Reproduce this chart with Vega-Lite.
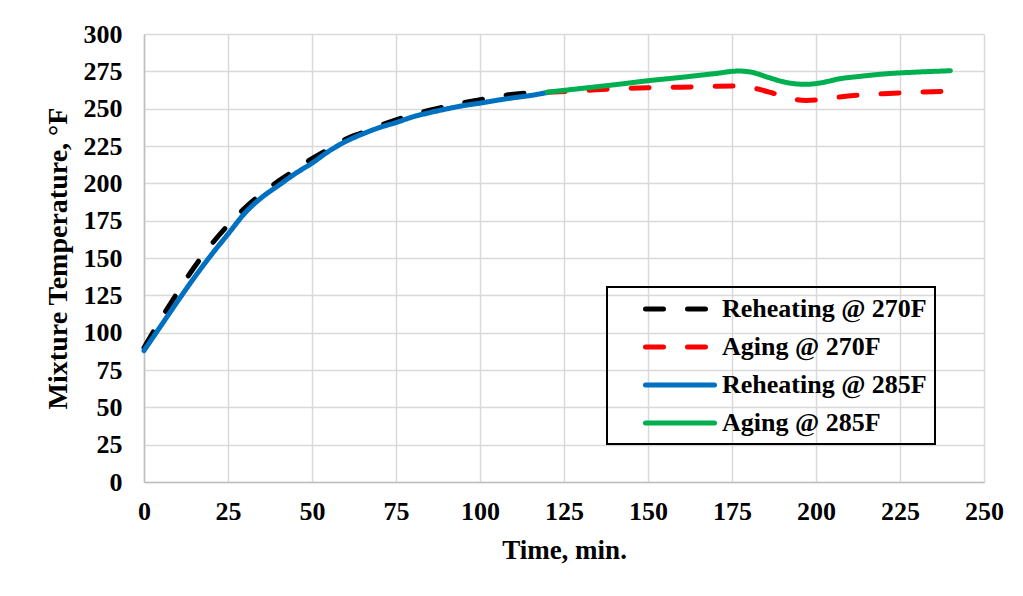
{
  "$schema": "https://vega.github.io/schema/vega-lite/v6.json",
  "autosize": {"type": "none"},
  "width": 840,
  "height": 448,
  "padding": {"left": 144, "top": 34, "right": 39, "bottom": 114},
  "background": "white",
  "config": {
    "view": {"stroke": null},
    "font": "Liberation Serif",
    "axis": {
      "labelFont": "Liberation Serif",
      "labelFontWeight": "bold",
      "labelFontSize": 26,
      "labelColor": "black",
      "labelFlush": false,
      "titleFont": "Liberation Serif",
      "titleFontWeight": "bold",
      "titleColor": "black",
      "gridColor": "#d9d9d9",
      "gridWidth": 1.5,
      "domainColor": "#bfbfbf",
      "domainWidth": 1.5,
      "ticks": false
    }
  },
  "data": {
    "values": [
      {"series": "Reheating @ 270F", "t": 0, "T": 90},
      {"series": "Reheating @ 270F", "t": 5, "T": 109},
      {"series": "Reheating @ 270F", "t": 10, "T": 127},
      {"series": "Reheating @ 270F", "t": 15, "T": 144},
      {"series": "Reheating @ 270F", "t": 20, "T": 159},
      {"series": "Reheating @ 270F", "t": 25, "T": 172},
      {"series": "Reheating @ 270F", "t": 30, "T": 183.5},
      {"series": "Reheating @ 270F", "t": 35, "T": 193},
      {"series": "Reheating @ 270F", "t": 40, "T": 201.5},
      {"series": "Reheating @ 270F", "t": 45, "T": 209},
      {"series": "Reheating @ 270F", "t": 50, "T": 216.5},
      {"series": "Reheating @ 270F", "t": 55, "T": 223},
      {"series": "Reheating @ 270F", "t": 60, "T": 229.5},
      {"series": "Reheating @ 270F", "t": 65, "T": 234},
      {"series": "Reheating @ 270F", "t": 70, "T": 238.5},
      {"series": "Reheating @ 270F", "t": 75, "T": 242.5},
      {"series": "Reheating @ 270F", "t": 80, "T": 246},
      {"series": "Reheating @ 270F", "t": 85, "T": 249},
      {"series": "Reheating @ 270F", "t": 90, "T": 251.5},
      {"series": "Reheating @ 270F", "t": 95, "T": 254},
      {"series": "Reheating @ 270F", "t": 100, "T": 256},
      {"series": "Reheating @ 270F", "t": 105, "T": 258},
      {"series": "Reheating @ 270F", "t": 110, "T": 259.7},
      {"series": "Reheating @ 270F", "t": 115, "T": 260.7},
      {"series": "Reheating @ 270F", "t": 120, "T": 261.3},
      {"series": "Aging @ 270F", "t": 120, "T": 261},
      {"series": "Aging @ 270F", "t": 130, "T": 262},
      {"series": "Aging @ 270F", "t": 140, "T": 263.3},
      {"series": "Aging @ 270F", "t": 150, "T": 264},
      {"series": "Aging @ 270F", "t": 160, "T": 264.4},
      {"series": "Aging @ 270F", "t": 170, "T": 265},
      {"series": "Aging @ 270F", "t": 177, "T": 265.2},
      {"series": "Aging @ 270F", "t": 182, "T": 263.5},
      {"series": "Aging @ 270F", "t": 187, "T": 260.5},
      {"series": "Aging @ 270F", "t": 192, "T": 257},
      {"series": "Aging @ 270F", "t": 197, "T": 255.5},
      {"series": "Aging @ 270F", "t": 202, "T": 256.2},
      {"series": "Aging @ 270F", "t": 207, "T": 257.8},
      {"series": "Aging @ 270F", "t": 212, "T": 259},
      {"series": "Aging @ 270F", "t": 220, "T": 260},
      {"series": "Aging @ 270F", "t": 230, "T": 261},
      {"series": "Aging @ 270F", "t": 240, "T": 261.6},
      {"series": "Reheating @ 285F", "t": 0, "T": 88},
      {"series": "Reheating @ 285F", "t": 5, "T": 104.5},
      {"series": "Reheating @ 285F", "t": 10, "T": 121},
      {"series": "Reheating @ 285F", "t": 15, "T": 137},
      {"series": "Reheating @ 285F", "t": 20, "T": 152},
      {"series": "Reheating @ 285F", "t": 25, "T": 166},
      {"series": "Reheating @ 285F", "t": 30, "T": 180},
      {"series": "Reheating @ 285F", "t": 35, "T": 190.5},
      {"series": "Reheating @ 285F", "t": 40, "T": 198.5},
      {"series": "Reheating @ 285F", "t": 45, "T": 206.5},
      {"series": "Reheating @ 285F", "t": 50, "T": 213.5},
      {"series": "Reheating @ 285F", "t": 55, "T": 221.5},
      {"series": "Reheating @ 285F", "t": 60, "T": 228},
      {"series": "Reheating @ 285F", "t": 65, "T": 233},
      {"series": "Reheating @ 285F", "t": 70, "T": 237.3},
      {"series": "Reheating @ 285F", "t": 75, "T": 240.7},
      {"series": "Reheating @ 285F", "t": 80, "T": 244.5},
      {"series": "Reheating @ 285F", "t": 85, "T": 247.3},
      {"series": "Reheating @ 285F", "t": 90, "T": 249.8},
      {"series": "Reheating @ 285F", "t": 95, "T": 252},
      {"series": "Reheating @ 285F", "t": 100, "T": 253.7},
      {"series": "Reheating @ 285F", "t": 105, "T": 255.6},
      {"series": "Reheating @ 285F", "t": 110, "T": 257.3},
      {"series": "Reheating @ 285F", "t": 115, "T": 258.8},
      {"series": "Reheating @ 285F", "t": 120, "T": 260.8},
      {"series": "Aging @ 285F", "t": 120, "T": 261},
      {"series": "Aging @ 285F", "t": 130, "T": 263.5},
      {"series": "Aging @ 285F", "t": 140, "T": 266},
      {"series": "Aging @ 285F", "t": 150, "T": 268.7},
      {"series": "Aging @ 285F", "t": 160, "T": 271},
      {"series": "Aging @ 285F", "t": 170, "T": 273.5},
      {"series": "Aging @ 285F", "t": 177, "T": 275.2},
      {"series": "Aging @ 285F", "t": 181, "T": 274.3},
      {"series": "Aging @ 285F", "t": 186, "T": 270.8},
      {"series": "Aging @ 285F", "t": 191, "T": 267.6},
      {"series": "Aging @ 285F", "t": 197, "T": 266.3},
      {"series": "Aging @ 285F", "t": 202, "T": 267.5},
      {"series": "Aging @ 285F", "t": 207, "T": 270},
      {"series": "Aging @ 285F", "t": 213, "T": 271.6},
      {"series": "Aging @ 285F", "t": 220, "T": 273.2},
      {"series": "Aging @ 285F", "t": 230, "T": 274.5},
      {"series": "Aging @ 285F", "t": 240, "T": 275.4}
    ]
  },
  "mark": {"type": "line", "strokeWidth": 5, "strokeCap": "round", "interpolate": "monotone"},
  "encoding": {
    "x": {
      "field": "t", "type": "quantitative",
      "scale": {"domain": [0, 250], "nice": false},
      "axis": {"values": [0, 25, 50, 75, 100, 125, 150, 175, 200, 225, 250], "labelPadding": 16, "title": "Time, min.", "titleFontSize": 27, "titlePadding": 13}
    },
    "y": {
      "field": "T", "type": "quantitative",
      "scale": {"domain": [0, 300], "nice": false},
      "axis": {"values": [0, 25, 50, 75, 100, 125, 150, 175, 200, 225, 250, 275, 300], "labelPadding": 22, "title": "Mixture Temperature, °F", "titleFontSize": 28, "titlePadding": 11}
    },
    "color": {
      "field": "series", "type": "nominal",
      "scale": {
        "domain": ["Reheating @ 270F", "Aging @ 270F", "Reheating @ 285F", "Aging @ 285F"],
        "range": ["#000000", "#ff0000", "#0070c0", "#00b050"]
      },
      "legend": {
        "title": null,
        "orient": "none",
        "legendX": 463,
        "legendY": 253,
        "padding": 8,
        "symbolType": "M-3,0H3",
        "symbolSize": 529,
        "symbolStrokeWidth": 5,
        "symbolOffset": 51,
        "labelOffset": 28,
        "labelFont": "Liberation Serif",
        "labelFontWeight": "bold",
        "labelFontSize": 26,
        "labelColor": "black",
        "labelLimit": 400,
        "rowPadding": 11,
        "strokeColor": "black",
        "encode": {"legend": {"update": {"strokeWidth": {"value": 2}}}, "symbols": {"update": {"strokeCap": {"value": "round"}}}}
      }
    },
    "strokeDash": {
      "field": "series", "type": "nominal",
      "scale": {
        "domain": ["Reheating @ 270F", "Aging @ 270F", "Reheating @ 285F", "Aging @ 285F"],
        "range": [[18, 24], [18, 24], [1, 0], [1, 0]]
      },
      "legend": null
    }
  }
}
